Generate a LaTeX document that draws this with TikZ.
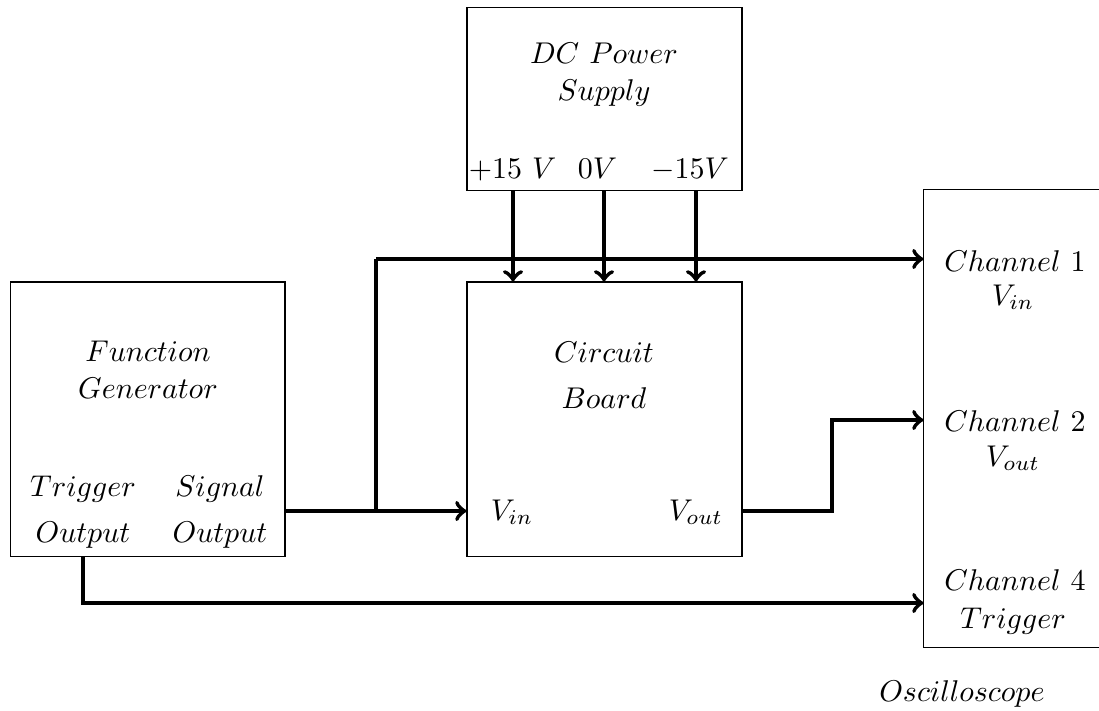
\documentclass[tikz,border=0pt]{standalone}
\begin{document}
\begin{tikzpicture}[x=0.33333pt, y=-0.33333pt,
  box/.style={draw, line width=0.4pt, inner sep=0pt, rectangle},
  openbox/.style={inner sep=0pt, rectangle},
  lbl/.style={anchor=base, inner sep=0pt},
  wire/.style={line width=1.4pt},
  arr/.style={->, line width=1.4pt}]
\useasboundingbox (0,0) rectangle (1099,710);
\clip (0,0) rectangle (1099,710);
% boxes
\node[box, minimum width=91.67pt, minimum height=61pt] (dc) at (604.5,99) {};
\node[box, minimum width=91.67pt, minimum height=91.5pt] (cb) at (604.5,419.25) {};
\node[box, minimum width=91.5pt, minimum height=91.5pt] (fg) at (147.75,419.25) {};
\node[openbox, minimum width=68.67pt, minimum height=152.33pt] (osc) at (1027,418.5) {};
\draw[line width=0.4pt] (osc.north east) -- (osc.north west) -- (osc.south west) -- (osc.south east);
% labels
\node[lbl] (dc1) at (604,63) {$DC\ Power$};
\node[lbl] (dc2) at (604,100) {$Supply$};
\node[lbl] (vp) at (512.5,178) {$+15\ V$};
\node[lbl] (vz) at (597.5,178) {$0V$};
\node[lbl] (vm) at (690,178) {$-15V$};
\node[lbl] (fg1) at (148,361) {$Function$};
\node[lbl] (fg2) at (148,398) {$Generator$};
\node[lbl] (tr1) at (83,496) {$Trigger$};
\node[lbl] (tr2) at (83,542) {$Output$};
\node[lbl] (sg1) at (220,496) {$Signal$};
\node[lbl] (sg2) at (220,542) {$Output$};
\node[lbl] (cb1) at (604,362) {$Circuit$};
\node[lbl] (cb2) at (604,408) {$Board$};
\node[lbl] (cbin) at (512,520) {$V_{in}$};
\node[lbl] (cbout) at (696,520) {$V_{out}$};
\node[lbl] (ch1) at (1015,271) {$Channel\ 1$};
\node[lbl] (ch1v) at (1013,305) {$V_{in}$};
\node[lbl] (ch2) at (1015,431) {$Channel\ 2$};
\node[lbl] (ch2v) at (1013,466) {$V_{out}$};
\node[lbl] (ch4) at (1015,590) {$Channel\ 4$};
\node[lbl] (ch4v) at (1013,628) {$Trigger$};
\node[lbl] (osct) at (962,701) {$Oscilloscope$};
% helper coordinates
\coordinate (a1) at (513,0);
\coordinate (a2) at (604,0);
\coordinate (a3) at (696,0);
\coordinate (sy) at (0,511);
\coordinate (j1) at (376,511);
\coordinate (top) at (376,259);
\coordinate (k) at (832,420);
\coordinate (t) at (83,603);
% connectors
\draw[arr] (dc.south -| a1) -- (cb.north -| a1);
\draw[arr] (dc.south -| a2) -- (cb.north -| a2);
\draw[arr] (dc.south -| a3) -- (cb.north -| a3);
\draw[arr] (fg.east |- sy) -- (cb.west |- sy);
\draw[wire] (j1) -- (top);
\draw[arr] (top) -- (osc.west |- top);
\draw[arr] (cb.east |- sy) -| (k) -- (osc.west |- k);
\draw[arr] (fg.south -| t) |- (osc.west |- t);
\end{tikzpicture}
\end{document}
